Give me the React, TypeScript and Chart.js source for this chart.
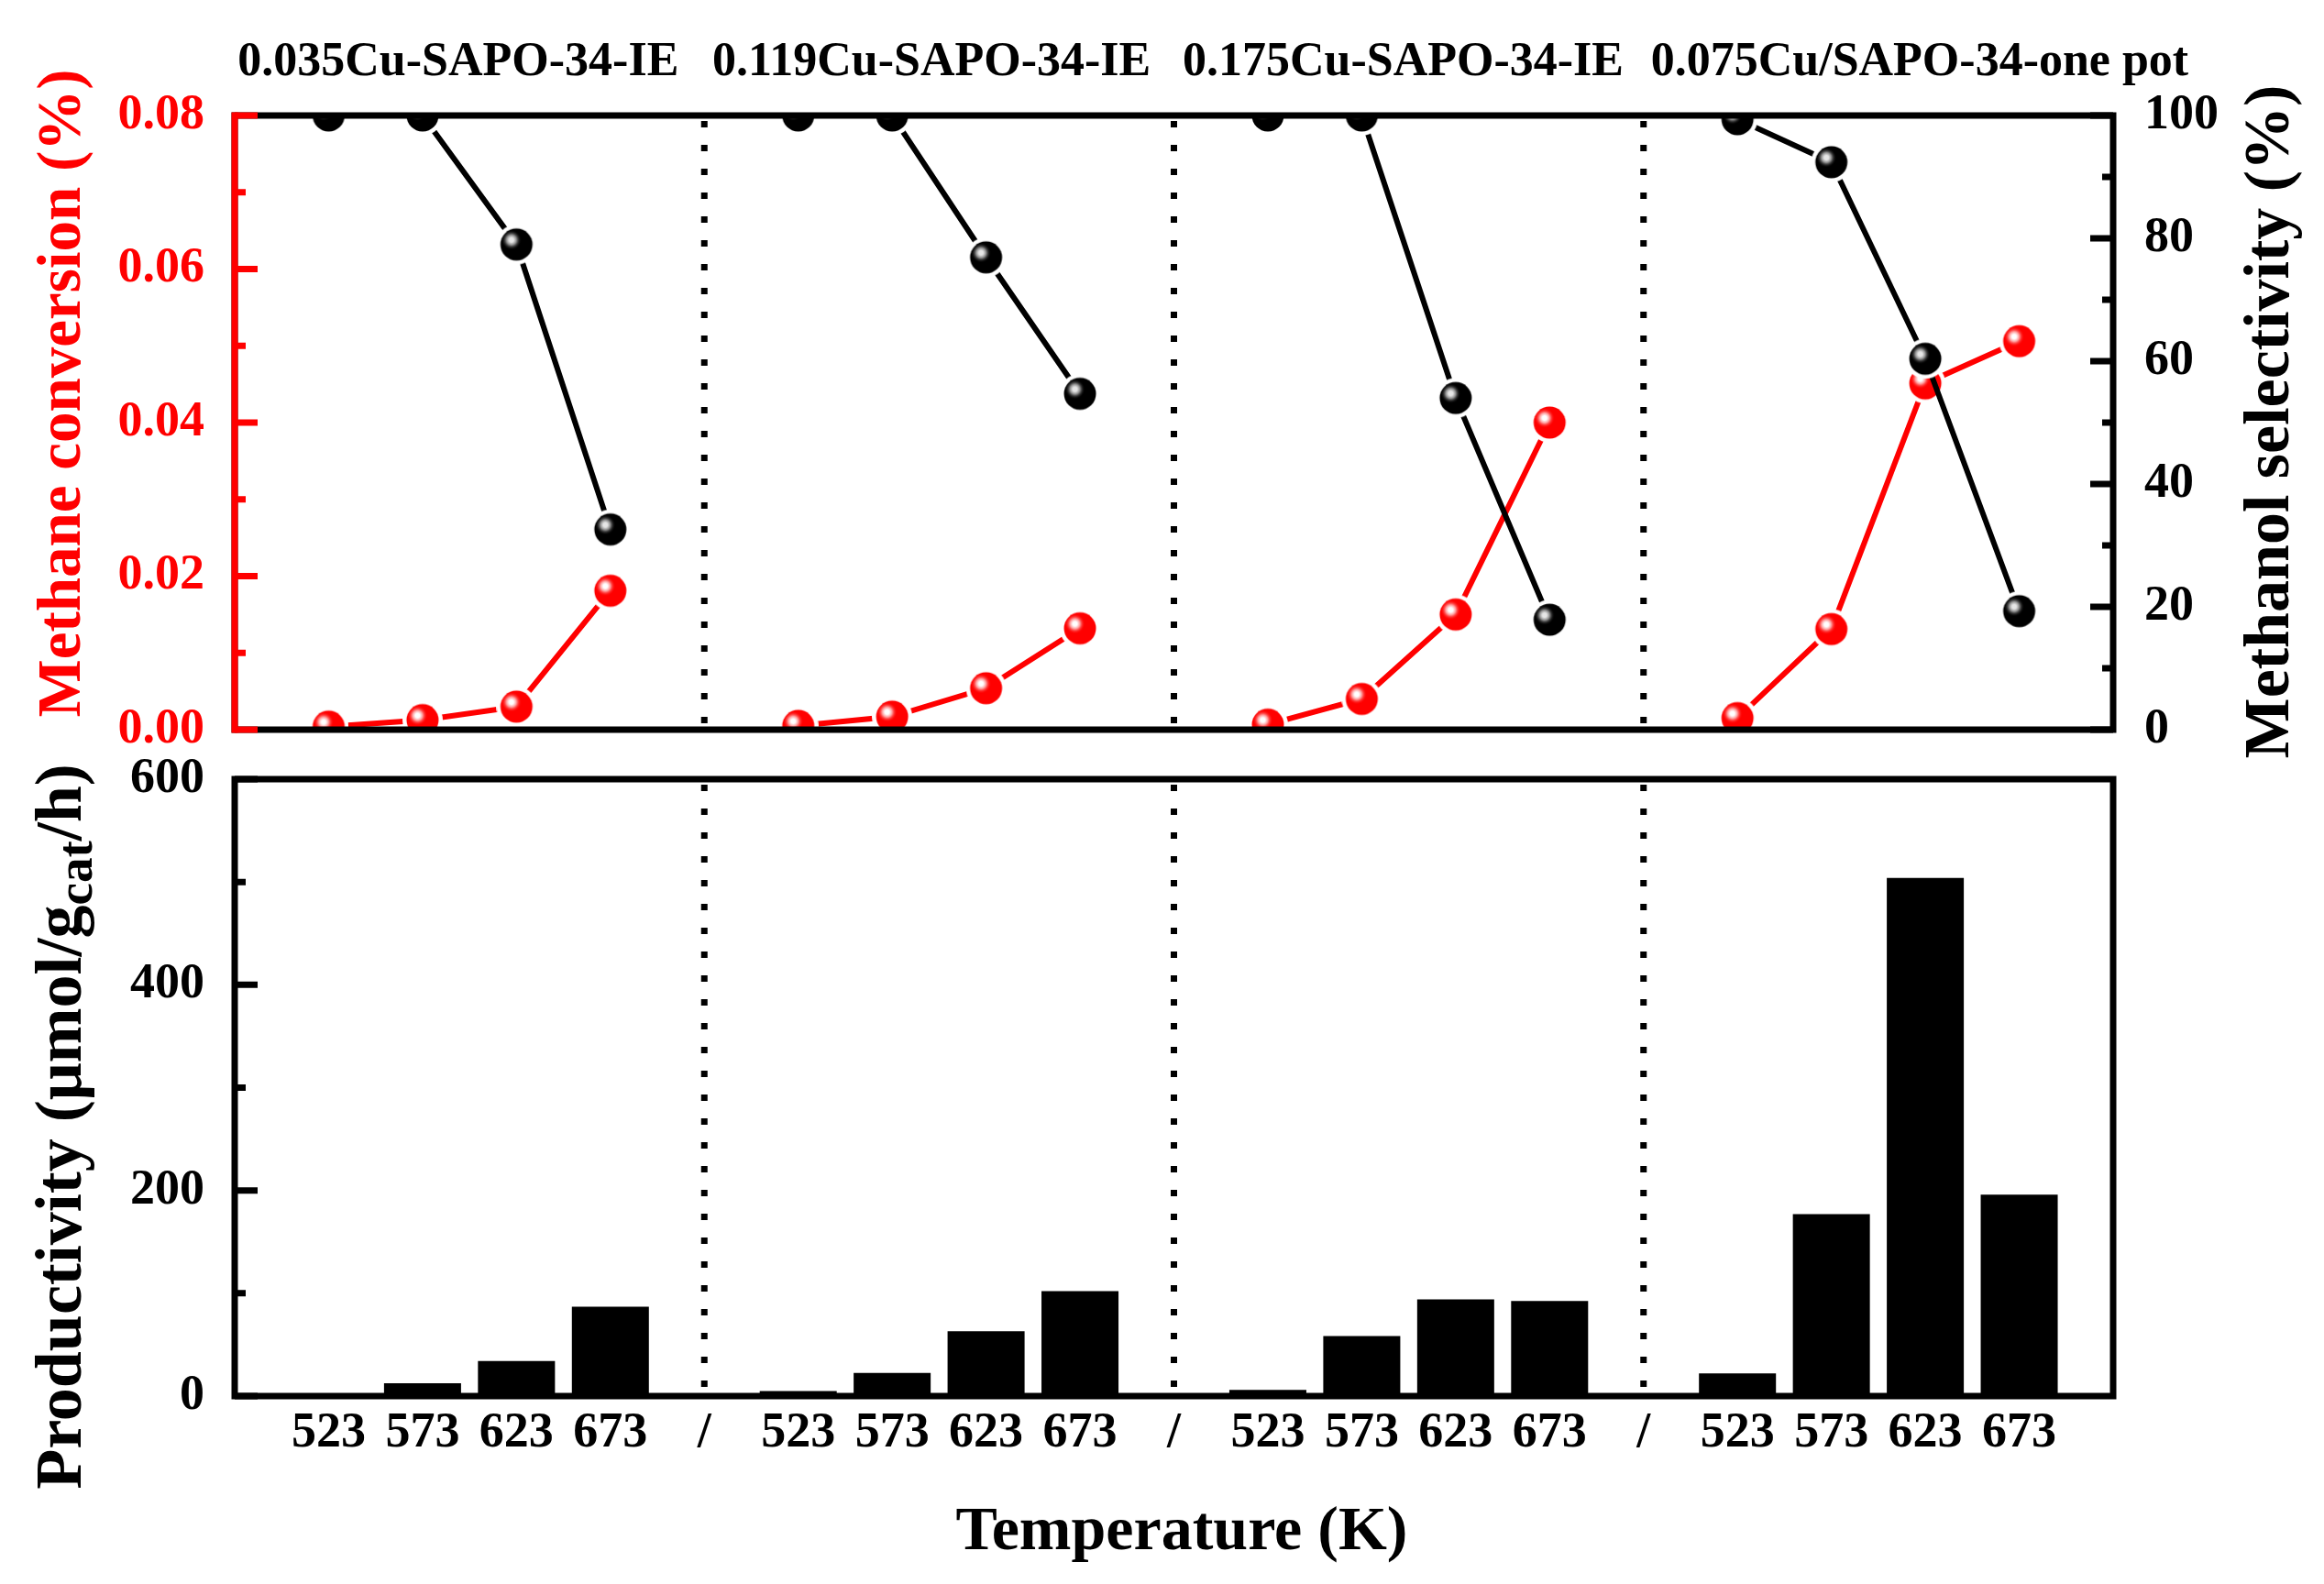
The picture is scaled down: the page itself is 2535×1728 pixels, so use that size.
import React, { useEffect, useRef } from "react";
import { Chart, registerables } from "chart.js";

Chart.register(...registerables);

// categories
const temperatures = ["523", "573", "623", "673"];
const catalysts = [
  "0.035Cu-SAPO-34-IE",
  "0.119Cu-SAPO-34-IE",
  "0.175Cu-SAPO-34-IE",
  "0.075Cu/SAPO-34-one pot",
];

// methane conversion (%), left axis of the upper panel
const methaneConversion = [
  [0.0004, 0.00125, 0.003, 0.0181],
  [0.0005, 0.0017, 0.0054, 0.0132],
  [0.00066, 0.004, 0.015, 0.04],
  [0.0015, 0.0131, 0.0451, 0.0506],
];

// methanol selectivity (%), right axis of the upper panel
const methanolSelectivity = [
  [100, 100, 79, 32.6],
  [100, 100, 76.9, 54.7],
  [100, 100, 54, 17.9],
  [99.4, 92.4, 60.4, 19.3],
];

// productivity (umol/gcat/h), lower panel
const productivity = [
  [0.8, 12.5, 34, 87],
  [5, 22.5, 63, 102],
  [6, 58.5, 94, 92.4],
  [22, 177, 504, 196],
];

const SLOT = 5; // 4 temperatures + one separator per catalyst
const dividers = [5, 10, 15];
const titleAnchors = [2.38, 7.42, 12.44, 17.94]; // x (slot units) of the catalyst names

const SERIF = '"Liberation Serif", "Times New Roman", serif';
const RED = "#ff0000";
const FRAME = 7;
const tickFont = { family: SERIF, size: 54, weight: "bold" as const };

const toPoints = (series: number[][], breakLines: boolean) =>
  series.flatMap((vals, g) => {
    const pts: { x: number; y: number | null }[] = vals.map((v, i) => ({ x: g * SLOT + i + 1, y: v }));
    if (breakLines && g < series.length - 1) pts.push({ x: g * SLOT + SLOT, y: null });
    return pts;
  });

const xLabel = (v: number) => {
  const pos = Math.round(v);
  if (pos <= 0 || pos >= 20) return "";
  const r = pos % SLOT;
  return r === 0 ? "/" : temperatures[r - 1];
};

function makeBall(base: string, glow: string, core: string, clear: string) {
  const r = 17.5;
  const ring = 4.5;
  const size = Math.ceil(2 * (r + ring));
  const c = document.createElement("canvas");
  c.width = size;
  c.height = size;
  const g = c.getContext("2d") as CanvasRenderingContext2D;
  const m = size / 2;
  g.fillStyle = "#ffffff";
  g.beginPath();
  g.arc(m, m, r + ring, 0, Math.PI * 2);
  g.fill();
  g.fillStyle = base;
  g.beginPath();
  g.arc(m, m, r, 0, Math.PI * 2);
  g.fill();
  const hx = m - 5.5;
  const hy = m - 5;
  const grad = g.createRadialGradient(hx, hy, 0, hx, hy, 11);
  grad.addColorStop(0, core);
  grad.addColorStop(0.22, core);
  grad.addColorStop(0.5, glow);
  grad.addColorStop(1, clear);
  g.fillStyle = grad;
  g.beginPath();
  g.arc(m, m, r, 0, Math.PI * 2);
  g.fill();
  return c;
}

function drawDividers(chart: any) {
  const { ctx, chartArea: a, scales } = chart;
  ctx.save();
  ctx.strokeStyle = "#000";
  ctx.lineWidth = FRAME;
  ctx.lineCap = "butt";
  ctx.setLineDash([7, 19]);
  dividers.forEach((d) => {
    const px = scales.x.getPixelForValue(d);
    ctx.beginPath();
    ctx.moveTo(px, a.top + 6);
    ctx.lineTo(px, a.bottom);
    ctx.stroke();
  });
  ctx.restore();
}

function drawFrame(ctx: CanvasRenderingContext2D, a: any) {
  ctx.save();
  ctx.strokeStyle = "#000";
  ctx.lineWidth = FRAME;
  ctx.lineJoin = "miter";
  ctx.strokeRect(a.left, a.top, a.right - a.left, a.bottom - a.top);
  ctx.restore();
}

// inward major / minor ticks on a vertical axis
function drawYTicks(ctx: CanvasRenderingContext2D, scale: any, x: number, dir: number, major: number, minor: number, color: string) {
  const n = Math.round((scale.max - scale.min) / minor);
  const every = Math.round(major / minor);
  ctx.save();
  ctx.strokeStyle = color;
  ctx.lineWidth = FRAME;
  ctx.lineCap = "butt";
  ctx.beginPath();
  for (let i = 0; i <= n; i++) {
    const y = scale.getPixelForValue(scale.min + i * minor);
    const len = i % every === 0 ? 25 : 12;
    ctx.moveTo(x, y);
    ctx.lineTo(x + dir * len, y);
  }
  ctx.stroke();
  ctx.restore();
}

type Part = { text: string; size: number; shift?: number };

function drawRotated(ctx: CanvasRenderingContext2D, x: number, y: number, parts: Part[], color: string) {
  ctx.save();
  ctx.translate(x, y);
  ctx.rotate(-Math.PI / 2);
  ctx.fillStyle = color;
  ctx.textAlign = "left";
  ctx.textBaseline = "alphabetic";
  const widths = parts.map((p) => {
    ctx.font = `bold ${p.size}px ${SERIF}`;
    return ctx.measureText(p.text).width;
  });
  let cx = -widths.reduce((s, w) => s + w, 0) / 2;
  parts.forEach((p, i) => {
    ctx.font = `bold ${p.size}px ${SERIF}`;
    ctx.fillText(p.text, cx, p.shift || 0);
    cx += widths[i];
  });
  ctx.restore();
}

const upperDecor = {
  id: "upperDecor",
  beforeDatasetsDraw(chart: any) {
    drawDividers(chart);
  },
  afterDatasetsDraw(chart: any) {
    const { ctx, chartArea: a, scales } = chart;
    drawFrame(ctx, a);
    ctx.save();
    ctx.strokeStyle = RED;
    ctx.lineWidth = FRAME;
    ctx.beginPath();
    ctx.moveTo(a.left, a.top - FRAME / 2);
    ctx.lineTo(a.left, a.bottom + FRAME / 2);
    ctx.stroke();
    ctx.restore();
    drawYTicks(ctx, scales.y, a.left, 1, 0.02, 0.01, RED);
    drawYTicks(ctx, scales.y1, a.right, -1, 20, 10, "#000");
  },
  afterDraw(chart: any) {
    const { ctx, scales } = chart;
    ctx.save();
    ctx.fillStyle = "#000";
    ctx.font = `bold 52px ${SERIF}`;
    ctx.textAlign = "center";
    ctx.textBaseline = "alphabetic";
    catalysts.forEach((name, i) => {
      ctx.fillText(name, scales.x.getPixelForValue(titleAnchors[i]), 82);
    });
    ctx.restore();
    drawRotated(ctx, 87, 429, [{ text: "Methane conversion (%)", size: 67 }], RED);
    drawRotated(ctx, 2496, 460, [{ text: "Methanol selectivity (%)", size: 70 }], "#000");
  },
};

const UPPER_H = 900;
const LOWER_TOP = 740;

const lowerDecor = {
  id: "lowerDecor",
  beforeDatasetsDraw(chart: any) {
    drawDividers(chart);
  },
  afterDatasetsDraw(chart: any) {
    const { ctx, chartArea: a, scales } = chart;
    drawFrame(ctx, a);
    drawYTicks(ctx, scales.y, a.left, 1, 200, 100, "#000");
  },
  afterDraw(chart: any) {
    const { ctx } = chart;
    drawRotated(
      ctx,
      88,
      1229 - LOWER_TOP,
      [
        { text: "Productivity (μmol/g", size: 72 },
        { text: "cat", size: 55, shift: 12 },
        { text: "/h)", size: 72 },
      ],
      "#000"
    );
    ctx.save();
    ctx.fillStyle = "#000";
    ctx.font = `bold 68px ${SERIF}`;
    ctx.textAlign = "center";
    ctx.textBaseline = "alphabetic";
    ctx.fillText("Temperature (K)", 1289, 1690 - LOWER_TOP);
    ctx.restore();
  },
};

const hiddenGrid = { display: false, drawTicks: false };

const UpperPanel: React.FC = () => {
  const chartRef = useRef<HTMLCanvasElement | null>(null);

  useEffect(() => {
    const ctx = chartRef.current?.getContext("2d");
    if (!ctx) {
      return;
    }
    const blackBall = makeBall("#000000", "#8c8c8c", "#e6e6e6", "rgba(0,0,0,0)");
    const redBall = makeBall("#ff0000", "#ff9c9c", "#ffffff", "rgba(255,0,0,0)");

    const chart = new Chart(ctx, {
      type: "line",
      data: {
        datasets: [
          {
            label: "Methanol selectivity",
            data: toPoints(methanolSelectivity, true),
            yAxisID: "y1",
            borderColor: "#000",
            borderWidth: 6,
            pointStyle: blackBall,
            pointRadius: 18,
            spanGaps: false,
            tension: 0,
            clip: 0,
          },
          {
            label: "Methane conversion",
            data: toPoints(methaneConversion, true),
            yAxisID: "y",
            borderColor: RED,
            borderWidth: 6,
            pointStyle: redBall,
            pointRadius: 18,
            spanGaps: false,
            tension: 0,
            clip: 0,
          },
        ],
      } as any,
      options: {
        animation: false,
        responsive: true,
        maintainAspectRatio: false,
        events: [],
        layout: { padding: { top: 126, bottom: UPPER_H - 796, left: 0, right: 0 } },
        plugins: { legend: { display: false }, tooltip: { enabled: false } },
        scales: {
          x: { type: "linear", min: 0, max: 20, display: false },
          y: {
            position: "left",
            min: 0,
            max: 0.08,
            grid: hiddenGrid,
            border: { display: false },
            ticks: {
              stepSize: 0.02,
              padding: 33,
              color: RED,
              font: tickFont,
              callback: (v: any) => Number(v).toFixed(2),
            },
            afterFit: (s: any) => {
              s.width = 256;
            },
          },
          y1: {
            position: "right",
            min: 0,
            max: 100,
            grid: hiddenGrid,
            border: { display: false },
            ticks: { stepSize: 20, padding: 34, color: "#000", font: tickFont },
            afterFit: (s: any) => {
              s.width = 230;
            },
          },
        },
      } as any,
      plugins: [upperDecor],
    });

    return () => {
      chart.destroy();
    };
  }, []);

  return (
    <div style={{ position: "absolute", left: 0, top: 0, width: 2535, height: UPPER_H }}>
      <canvas ref={chartRef} />
    </div>
  );
};

const LowerPanel: React.FC = () => {
  const chartRef = useRef<HTMLCanvasElement | null>(null);

  useEffect(() => {
    const ctx = chartRef.current?.getContext("2d");
    if (!ctx) {
      return;
    }
    const chart = new Chart(ctx, {
      type: "bar",
      data: {
        datasets: [
          {
            label: "Productivity",
            data: toPoints(productivity, false),
            backgroundColor: "#000",
            borderWidth: 0,
            barPercentage: 0.82,
            categoryPercentage: 1,
          },
        ],
      } as any,
      options: {
        animation: false,
        responsive: true,
        maintainAspectRatio: false,
        events: [],
        layout: { padding: { top: 850 - LOWER_TOP, bottom: 0, left: 0, right: 230 } },
        plugins: { legend: { display: false }, tooltip: { enabled: false } },
        scales: {
          x: {
            type: "linear",
            min: 0,
            max: 20,
            offset: false,
            grid: { display: false, drawTicks: false, offset: false },
            border: { display: false },
            ticks: {
              stepSize: 1,
              maxTicksLimit: 30,
              autoSkip: false,
              maxRotation: 0,
              minRotation: 0,
              padding: 9,
              color: "#000",
              font: tickFont,
              callback: (v: any) => xLabel(Number(v)),
            },
            afterFit: (s: any) => {
              s.height = 1728 - 1523;
            },
          },
          y: {
            position: "left",
            min: 0,
            max: 600,
            grid: hiddenGrid,
            border: { display: false },
            ticks: { stepSize: 200, padding: 33, color: "#000", font: tickFont },
            afterFit: (s: any) => {
              s.width = 256;
            },
          },
        },
      } as any,
      plugins: [lowerDecor],
    });

    return () => {
      chart.destroy();
    };
  }, []);

  return (
    <div style={{ position: "absolute", left: 0, top: LOWER_TOP, width: 2535, height: 1728 - LOWER_TOP }}>
      <canvas ref={chartRef} />
    </div>
  );
};

const App: React.FC = () => (
  <div style={{ position: "absolute", left: 0, top: 0, width: 2535, height: 1728, background: "#fff" }}>
    <UpperPanel />
    <LowerPanel />
  </div>
);

export default App;
